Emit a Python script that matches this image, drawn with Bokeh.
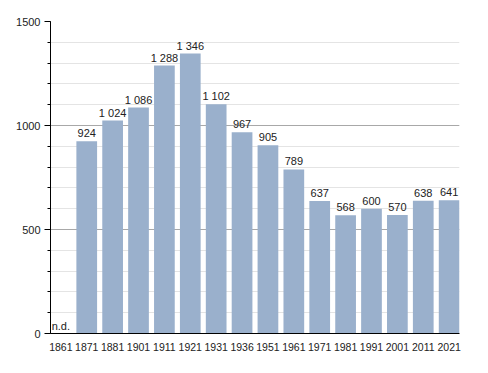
from bokeh.plotting import figure
from bokeh.models import ColumnDataSource, FixedTicker, Range1d, LabelSet
from bokeh.core.properties import value
from bokeh.embed import file_html
from bokeh.resources import INLINE

years = ["1861", "1871", "1881", "1901", "1911", "1921", "1931", "1936",
         "1951", "1961", "1971", "1981", "1991", "2001", "2011", "2021"]
population = [None, 924, 1024, 1086, 1288, 1346, 1102, 967,
              905, 789, 637, 568, 600, 570, 638, 641]
y_ticks = [0, 500, 1000, 1500]

def fmt(v):
    if v is None:
        return "n.d."
    return f"{v:,}".replace(",", " ")

xs = list(range(len(years)))
tops = [v if v is not None else 0 for v in population]
labels = [fmt(v) for v in population]
src = ColumnDataSource(dict(x=xs, top=tops, label=labels))

FONT = "Liberation Sans"
bw = 0.8
p = figure(width=480, height=365, output_backend="svg", toolbar_location=None,
           x_range=Range1d(-bw / 2, len(years) - 1 + bw / 2),
           y_range=Range1d(0, 1500),
           min_border_left=50, min_border_right=21, min_border_top=21,
           min_border_bottom=32)
p.outline_line_color = None
p.background_fill_color = "white"

p.vbar(x="x", top="top", width=bw, source=src, fill_color="#9ab0cc", line_color=None)

labs = LabelSet(x="x", y="top", text="label", source=src, text_align="center",
                text_baseline="alphabetic", y_offset=4, text_font=value(FONT),
                text_font_size=value("11px"), text_color="#222222")
p.add_layout(labs)

# x axis
p.xaxis.ticker = FixedTicker(ticks=xs)
p.xaxis.major_label_overrides = {i: y for i, y in enumerate(years)}
p.xaxis.major_tick_line_color = None
p.xaxis.minor_tick_line_color = None
p.xaxis.axis_line_color = "black"
p.xaxis.major_label_text_font = FONT
p.xaxis.major_label_text_font_size = "10.5px"
p.xaxis.major_label_text_color = "#222222"
p.xaxis.major_label_standoff = 3
p.xgrid.grid_line_color = None

# y axis
p.yaxis.ticker = FixedTicker(ticks=y_ticks, minor_ticks=list(range(0, 1501, 100)))
p.yaxis.axis_line_color = "black"
p.yaxis.major_tick_line_color = "black"
p.yaxis.major_tick_out = 6
p.yaxis.major_tick_in = 0
p.yaxis.minor_tick_line_color = "black"
p.yaxis.minor_tick_out = 3
p.yaxis.minor_tick_in = 0
p.yaxis.major_label_text_font = FONT
p.yaxis.major_label_text_font_size = "11px"
p.yaxis.major_label_text_color = "#222222"
p.yaxis.major_label_standoff = 4
p.ygrid.grid_line_color = "#a8a8a8"
p.ygrid.minor_grid_line_color = "#e4e4e4"
p.ygrid.level = "underlay"

open("out.html", "w").write(file_html(p, INLINE))
